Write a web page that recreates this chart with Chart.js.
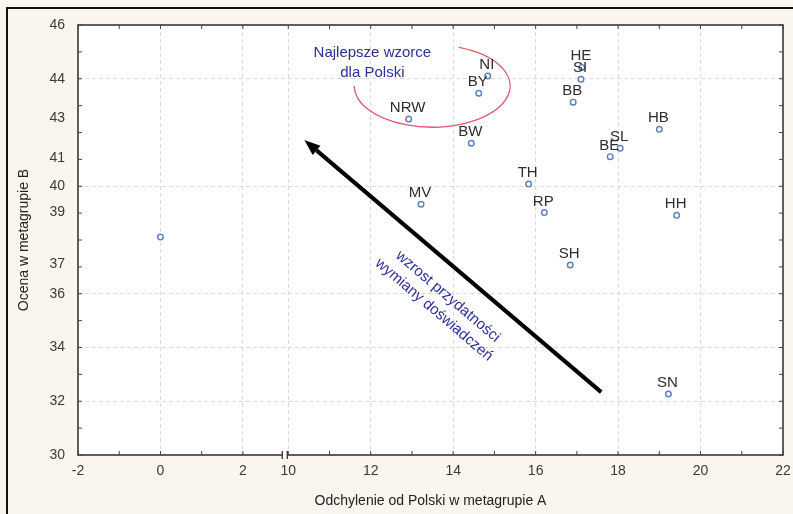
<!DOCTYPE html>
<html>
<head>
<meta charset="utf-8">
<script src="https://cdn.jsdelivr.net/npm/chart.js@4"></script>
<style>
    body { margin: 0; background: #faf6ee; }
    #wrap { position: relative; width: 793px; height: 514px; }
    #frame { position: absolute; left: 6px; top: 7px; right: 0; bottom: 0; border-left: 2px solid #111; border-top: 2px solid #111; pointer-events: none; }
</style>
</head>
<body>
<div id="wrap">
    <canvas id="chart" width="793" height="514"></canvas>
    <div id="frame"></div>
</div>
<script>
// regions (labels), x = deviation from Poland (group A), y = score (group B)
const codes = ['', 'NRW', 'BY', 'NI', 'BW', 'HE', 'SI', 'BB', 'HB', 'SL', 'BE', 'TH', 'MV', 'RP', 'HH', 'SH', 'SN'];
const xVals = [0.0, 12.92, 14.62, 14.84, 14.44, 17.12, 17.10, 16.91, 19.00, 18.05, 17.81, 15.83, 13.22, 16.21, 19.42, 16.84, 19.22];
const yVals = [38.11, 42.50, 43.46, 44.10, 41.60, 44.42, 43.98, 43.13, 42.12, 41.41, 41.10, 40.08, 39.33, 39.02, 38.92, 37.07, 32.27];

// axis ticks (x axis has a break between 2 and 10)
const xTickLabels = [-2, 0, 2, 10, 12, 14, 16, 18, 20, 22];
const yTickValues = [30, 32, 34, 36, 37.1, 39.04, 40, 41.05, 42.55, 44, 46];
const yTickLabels = ['30', '32', '34', '36', '37', '39', '40', '41', '43', '44', '46'];

const X_SHIFT = 6.9;
function toAxis(v) { return v >= 10 ? v - X_SHIFT : v; }

const points = codes.map((c, i) => ({ x: toAxis(xVals[i]), y: yVals[i] }));

const annot = {
    ellipse: { x: 13.49, y: 43.73, rx: 1.89, ry: 1.53 },
    arrowFrom: { x: 17.59, y: 32.34 },
    arrowTo: { x: 10.39, y: 41.72 },
    bestText: { x: 12.04, y: 44.96, lines: ['Najlepsze wzorce', 'dla Polski'] },
    trendText: { x: 13.87, y: 35.89, lines: ['wzrost przydatności', 'wymiany doświadczeń'] }
};

const FONT = "'Liberation Sans', Arial, sans-serif";

const overlay = {
    id: 'overlay',
    beforeDraw(chart) {
        const a = chart.chartArea;
        chart.ctx.save();
        chart.ctx.fillStyle = '#ffffff';
        chart.ctx.fillRect(a.left, a.top, a.right - a.left, a.bottom - a.top);
        chart.ctx.restore();
    },
    beforeDatasetsDraw(chart) {
        const ctx = chart.ctx, xs = chart.scales.x, ys = chart.scales.y;
        const a = chart.chartArea;
        ctx.save();
        // minor ticks, inward, all four sides
        ctx.strokeStyle = '#444';
        ctx.lineWidth = 1;
        const xInts = [];
        for (let v = -2; v <= 2; v++) xInts.push(v);
        for (let v = 10; v <= 22; v++) xInts.push(v);
        xInts.forEach(v => {
            const px = xs.getPixelForValue(toAxis(v));
            ctx.beginPath();
            ctx.moveTo(px, a.bottom); ctx.lineTo(px, a.bottom - 4);
            ctx.moveTo(px, a.top); ctx.lineTo(px, a.top + 4);
            ctx.stroke();
        });
        for (let v = 30; v <= 46; v++) {
            const py = ys.getPixelForValue(v);
            ctx.beginPath();
            ctx.moveTo(a.left, py); ctx.lineTo(a.left + 4, py);
            ctx.moveTo(a.right, py); ctx.lineTo(a.right - 4, py);
            ctx.stroke();
        }
        // plot frame
        ctx.strokeStyle = '#444';
        ctx.lineWidth = 1.7;
        ctx.strokeRect(a.left, a.top, a.right - a.left, a.bottom - a.top);
        // axis break marks at 10
        const bx = xs.getPixelForValue(toAxis(10));
        ctx.fillStyle = '#fff';
        ctx.fillRect(bx - 6, a.bottom - 2, 5, 4);
        ctx.strokeStyle = '#333';
        ctx.lineWidth = 1.3;
        ctx.beginPath();
        ctx.moveTo(bx - 6, a.bottom - 4); ctx.lineTo(bx - 6, a.bottom + 4);
        ctx.moveTo(bx - 1, a.bottom - 4); ctx.lineTo(bx - 1, a.bottom + 4);
        ctx.stroke();

        // ellipse (open arc)
        const e = annot.ellipse;
        const cx = xs.getPixelForValue(toAxis(e.x)), cy = ys.getPixelForValue(e.y);
        const rx = Math.abs(xs.getPixelForValue(toAxis(e.x) + e.rx) - cx);
        const ry = Math.abs(ys.getPixelForValue(e.y + e.ry) - cy);
        ctx.strokeStyle = '#e0566a';
        ctx.lineWidth = 1.3;
        ctx.beginPath();
        ctx.ellipse(cx, cy, rx, ry, 0, -1.22, Math.PI, false);
        ctx.stroke();

        // arrow
        const x1 = xs.getPixelForValue(toAxis(annot.arrowFrom.x)), y1 = ys.getPixelForValue(annot.arrowFrom.y);
        const x2 = xs.getPixelForValue(toAxis(annot.arrowTo.x)), y2 = ys.getPixelForValue(annot.arrowTo.y);
        const ang = Math.atan2(y2 - y1, x2 - x1);
        const headLen = 16, headW = 6;
        const bxh = x2 - headLen * Math.cos(ang), byh = y2 - headLen * Math.sin(ang);
        ctx.strokeStyle = '#000';
        ctx.lineWidth = 4;
        ctx.beginPath();
        ctx.moveTo(x1, y1); ctx.lineTo(bxh, byh);
        ctx.stroke();
        ctx.fillStyle = '#000';
        ctx.beginPath();
        ctx.moveTo(x2, y2);
        ctx.lineTo(bxh + headW * Math.sin(ang), byh - headW * Math.cos(ang));
        ctx.lineTo(bxh - headW * Math.sin(ang), byh + headW * Math.cos(ang));
        ctx.closePath();
        ctx.fill();

        // annotation texts
        ctx.fillStyle = '#2b2f9a';
        ctx.font = '15px ' + FONT;
        ctx.textAlign = 'center';
        ctx.textBaseline = 'middle';
        const bt = annot.bestText;
        const tx = xs.getPixelForValue(toAxis(bt.x)), ty = ys.getPixelForValue(bt.y);
        bt.lines.forEach((l, i) => ctx.fillText(l, tx, ty + i * 20));

        const tt = annot.trendText;
        ctx.save();
        ctx.translate(xs.getPixelForValue(toAxis(tt.x)), ys.getPixelForValue(tt.y));
        ctx.rotate(40.5 * Math.PI / 180);
        tt.lines.forEach((l, i) => ctx.fillText(l, -2 * i, i * 19));
        ctx.restore();
        ctx.restore();
    },
    afterDatasetsDraw(chart) {
        const ctx = chart.ctx;
        const meta = chart.getDatasetMeta(0);
        ctx.save();
        ctx.fillStyle = '#2e2e2e';
        ctx.font = '15px ' + FONT;
        ctx.textAlign = 'center';
        ctx.textBaseline = 'alphabetic';
        meta.data.forEach((pt, i) => {
            if (codes[i]) ctx.fillText(codes[i], pt.x - 1, pt.y - 7);
        });
        ctx.restore();
    }
};

new Chart(document.getElementById('chart'), {
    type: 'scatter',
    data: {
        datasets: [{
            data: points,
            pointRadius: 2.8,
            pointHoverRadius: 2.8,
            borderWidth: 1.4,
            borderColor: '#5a7fbf',
            backgroundColor: '#ffffff'
        }]
    },
    options: {
        responsive: false,
        animation: false,
        layout: { padding: { top: 25, right: 10, left: 0, bottom: 0 } },
        plugins: { legend: { display: false }, tooltip: { enabled: false } },
        scales: {
            x: {
                type: 'linear',
                min: -2,
                max: 22 - X_SHIFT,
                afterBuildTicks(scale) {
                    scale.ticks = xTickLabels.map(v => ({ value: toAxis(v) }));
                },
                afterFit(scale) {
                    scale.height = 59;
                    scale.paddingLeft = 0;
                    scale.paddingRight = 0;
                },
                ticks: {
                    padding: 8,
                    color: '#3a3a3a',
                    font: { family: FONT, size: 14 },
                    callback: (val, idx) => String(xTickLabels[idx])
                },
                grid: {
                    drawTicks: false,
                    color: ctx => (ctx.index === 0 || ctx.index === xTickLabels.length - 1) ? 'rgba(0,0,0,0)' : '#d9d9d9',
                    lineWidth: 1
                },
                border: { display: false, dash: [4, 3] },
                title: {
                    display: true,
                    text: 'Odchylenie od Polski w metagrupie A',
                    color: '#222',
                    font: { family: FONT, size: 14 },
                    padding: { top: 10 }
                }
            },
            y: {
                type: 'linear',
                min: 30,
                max: 46,
                afterBuildTicks(scale) {
                    scale.ticks = yTickValues.map(v => ({ value: v }));
                },
                afterFit(scale) { scale.width = 78; },
                ticks: {
                    padding: 13,
                    color: '#3a3a3a',
                    font: { family: FONT, size: 14 },
                    callback: (val, idx) => yTickLabels[idx]
                },
                grid: {
                    drawTicks: false,
                    color: ctx => {
                        const v = ctx.tick ? ctx.tick.value : null;
                        if (v === null || v === 30 || v === 46 || v % 2 !== 0) return 'rgba(0,0,0,0)';
                        return '#d9d9d9';
                    },
                    lineWidth: 1
                },
                border: { display: false, dash: [4, 3] },
                title: {
                    display: true,
                    text: 'Ocena w metagrupie B',
                    color: '#222',
                    font: { family: FONT, size: 14 },
                    padding: { top: 16, bottom: 0 }
                }
            }
        }
    },
    plugins: [overlay]
});
</script>
</body>
</html>
